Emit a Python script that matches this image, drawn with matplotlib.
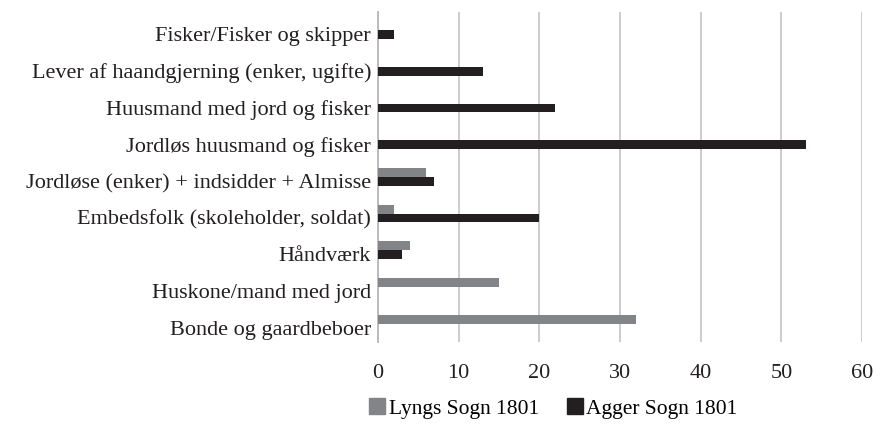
import numpy as np
import matplotlib.pyplot as plt
import matplotlib.transforms as mtransforms
from matplotlib.patches import Patch

categories = [
    'Bonde og gaardbeboer',
    'Huskone/mand med jord',
    'Håndværk',
    'Embedsfolk (skoleholder, soldat)',
    'Jordløse (enker) + indsidder + Almisse',
    'Jordløs huusmand og fisker',
    'Huusmand med jord og fisker',
    'Lever af haandgjerning (enker, ugifte)',
    'Fisker/Fisker og skipper',
]
lyngs = [32, 15, 4, 2, 6, 0, 0, 0, 0]
agger = [0, 0, 3, 20, 7, 53, 22, 13, 2]
series_names = ['Lyngs Sogn 1801', 'Agger Sogn 1801']
xticks = [0, 10, 20, 30, 40, 50, 60]

grey = '#838487'
black = '#231f20'

plt.rcParams['font.family'] = ['Liberation Serif', 'DejaVu Serif']
plt.rcParams['font.size'] = 16

fig = plt.figure(figsize=(8.74, 4.30), dpi=100)
ax = fig.add_axes([0.4325, 0.205, 0.5538, 0.767])

y = np.arange(len(categories))
h = 0.24
ax.barh(y + h / 2, lyngs, height=h, color=grey, zorder=3)
ax.barh(y - h / 2, agger, height=h, color=black, zorder=3)

ax.set_xlim(0, 60)
ax.set_ylim(-0.5, len(categories) - 0.5)
ax.set_xticks(xticks)
ax.set_yticks(y)
ax.set_yticklabels(categories, color='#231f20')
ax.tick_params(axis='y', length=0, pad=5)
ax.tick_params(axis='x', length=0, pad=16, colors='#231f20')
# Labels sit a few pixels below the category centre in the original
shift = mtransforms.ScaledTranslation(0, -4 / 100, fig.dpi_scale_trans)
for lab in ax.get_yticklabels():
    lab.set_transform(lab.get_transform() + shift)
ax.xaxis.grid(True, color='#c8c8c8', linewidth=1.3, zorder=0)
for s in ['top', 'right', 'bottom']:
    ax.spines[s].set_visible(False)
ax.spines['left'].set_color('#b8b8b8')
ax.spines['left'].set_linewidth(1.3)

handles = [Patch(color=grey), Patch(color=black)]
fig.legend(handles, series_names, loc='center', bbox_to_anchor=(0.633, 0.05),
           ncol=2, frameon=False, handlelength=0.75, handleheight=0.75,
           handletextpad=0.15, columnspacing=1.3, fontsize=15.5)

fig.savefig('out.png', dpi=100)
